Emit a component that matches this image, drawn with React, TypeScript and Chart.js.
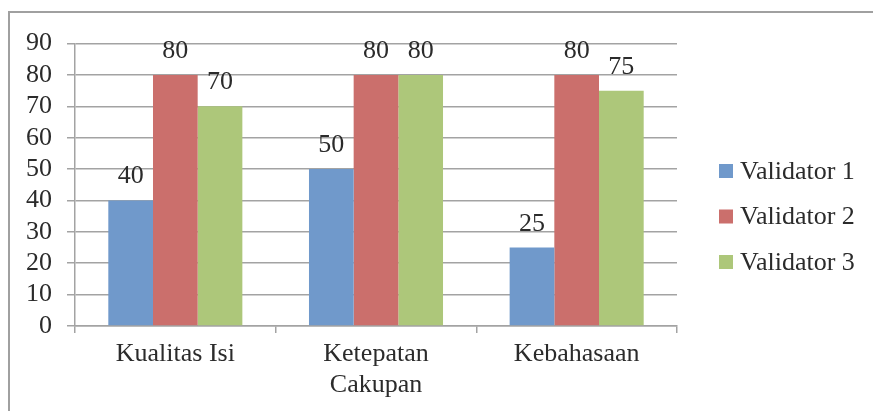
import React, { useEffect, useRef } from 'react';
import { Chart, registerables } from 'chart.js';

Chart.register(...registerables);

const categories: string[][] = [['Kualitas Isi'], ['Ketepatan', 'Cakupan'], ['Kebahasaan']];
const seriesNames = ['Validator 1', 'Validator 2', 'Validator 3'];
const validator1 = [40, 50, 25];
const validator2 = [80, 80, 80];
const validator3 = [70, 80, 75];
const yMin = 0;
const yMax = 90;
const yStep = 10;

const seriesColors = ['#7099cb', '#cb6f6c', '#adc77a'];
const FONT_FAMILY = '"Liberation Serif", "Times New Roman", Times, serif';
const FONT_SIZE = 26;
const TEXT_COLOR = '#2b2b2b';
const GRID_COLOR = '#a3a3a3';

const valueLabels = {
  id: 'valueLabels',
  afterDatasetsDraw(chart: any) {
    const ctx = chart.ctx;
    ctx.save();
    ctx.font = `${FONT_SIZE}px ${FONT_FAMILY}`;
    ctx.fillStyle = TEXT_COLOR;
    ctx.textAlign = 'center';
    ctx.textBaseline = 'alphabetic';
    chart.data.datasets.forEach((ds: any, di: number) => {
      const meta = chart.getDatasetMeta(di);
      meta.data.forEach((el: any, i: number) => {
        ctx.fillText(String(ds.data[i]), el.x, el.y - 17);
      });
    });
    ctx.restore();
  },
};

const sideLegend = {
  id: 'sideLegend',
  afterDraw(chart: any) {
    const ctx = chart.ctx;
    const x = chart.chartArea.right + 42;
    const y0 = 158;
    const gap = 45.5;
    ctx.save();
    ctx.font = `${FONT_SIZE}px ${FONT_FAMILY}`;
    ctx.textAlign = 'left';
    ctx.textBaseline = 'middle';
    chart.data.datasets.forEach((ds: any, i: number) => {
      const y = y0 + i * gap;
      ctx.fillStyle = ds.backgroundColor;
      ctx.fillRect(x, y - 7, 14, 14);
      ctx.fillStyle = TEXT_COLOR;
      ctx.fillText(ds.label, x + 21, y + 1);
    });
    ctx.restore();
  },
};

export default function App() {
  const ref = useRef<HTMLCanvasElement | null>(null);

  useEffect(() => {
    if (!ref.current) return;
    const seriesData = [validator1, validator2, validator3];
    const chart = new Chart(ref.current, {
      type: 'bar',
      data: {
        labels: categories as any,
        datasets: seriesNames.map((name, i) => ({
          label: name,
          data: seriesData[i],
          backgroundColor: seriesColors[i],
          borderWidth: 0,
          barPercentage: 1,
          categoryPercentage: 0.668,
        })),
      },
      options: {
        animation: false,
        responsive: true,
        maintainAspectRatio: false,
        devicePixelRatio: 1,
        layout: { padding: { top: 29, right: 196, left: 0, bottom: 0 } },
        plugins: {
          legend: { display: false },
          tooltip: { enabled: false },
        },
        scales: {
          x: {
            grid: {
              display: true,
              drawOnChartArea: false,
              offset: true,
              tickLength: 7,
              color: GRID_COLOR,
              lineWidth: 1.5,
            },
            border: { display: true, color: GRID_COLOR, width: 1.5 },
            ticks: {
              color: TEXT_COLOR,
              padding: 6,
              maxRotation: 0,
              autoSkip: false,
              font: { family: FONT_FAMILY, size: FONT_SIZE, lineHeight: 1.18 },
            },
            afterFit: (s: any) => {
              s.height = 85;
            },
          },
          y: {
            min: yMin,
            max: yMax,
            grid: {
              color: GRID_COLOR,
              lineWidth: 1.5,
              tickLength: 8,
            },
            border: { display: true, color: GRID_COLOR, width: 1.5 },
            ticks: {
              stepSize: yStep,
              autoSkip: false,
              color: TEXT_COLOR,
              padding: 15,
              font: { family: FONT_FAMILY, size: FONT_SIZE },
            },
            afterFit: (s: any) => {
              s.width = 65;
            },
          },
        },
      },
      plugins: [valueLabels, sideLegend],
    });
    return () => chart.destroy();
  }, []);

  return (
    <div
      style={{
        position: 'fixed',
        left: 8,
        top: 11,
        width: 865,
        height: 400,
        boxSizing: 'border-box',
        borderTop: '2px solid #a0a0a0',
        borderLeft: '2px solid #a0a0a0',
        background: '#ffffff',
      }}
    >
      <div style={{ position: 'relative', width: 863, height: 398 }}>
        <canvas ref={ref} />
      </div>
    </div>
  );
}
